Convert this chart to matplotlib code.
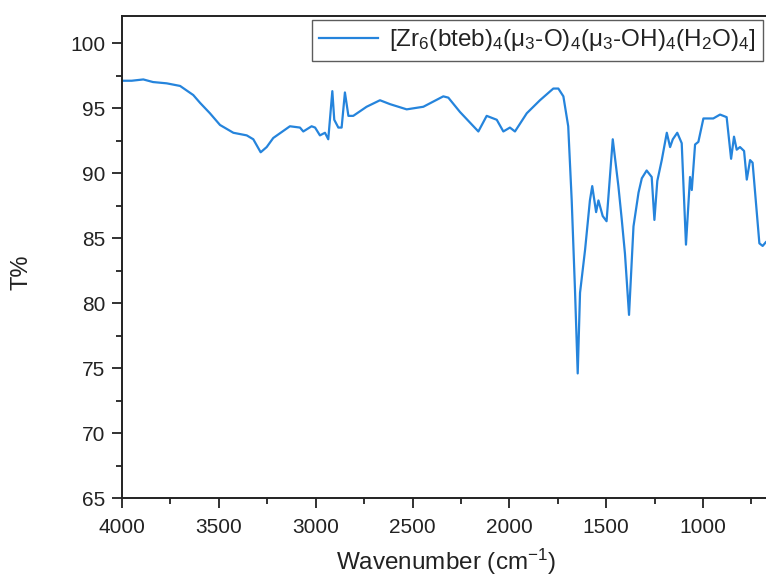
import matplotlib
matplotlib.use("Agg")
import matplotlib.pyplot as plt
from matplotlib.ticker import MultipleLocator

plt.rcParams['font.family'] = ['Liberation Sans', 'DejaVu Sans']
plt.rcParams['mathtext.fontset'] = 'custom'
plt.rcParams['mathtext.rm'] = 'Liberation Sans'
plt.rcParams['mathtext.it'] = 'Liberation Sans:italic'
plt.rcParams['mathtext.bf'] = 'Liberation Sans:bold'

wavenumber = [4000, 3950, 3890, 3840, 3769, 3700, 3632, 3597, 3546, 3494, 3425, 3356, 3322,
              3284, 3253, 3219, 3133, 3081, 3064, 3021, 3003, 2978, 2952, 2935, 2914, 2904,
              2883, 2866, 2849, 2831, 2806, 2737, 2668, 2616, 2530, 2444, 2341, 2315, 2255,
              2160, 2117, 2065, 2031, 1997, 1971, 1910, 1842, 1773, 1747, 1721, 1696, 1678,
              1661, 1647, 1635, 1609, 1584, 1572, 1552, 1540, 1518, 1498, 1466, 1437, 1420,
              1403, 1382, 1359, 1333, 1316, 1291, 1265, 1251, 1236, 1213, 1187, 1170, 1156,
              1133, 1110, 1088, 1067, 1058, 1041, 1024, 998, 973, 947, 912, 878, 855, 840,
              826, 809, 788, 774, 757, 744, 709, 692, 675, 650]
transmittance = [97.1, 97.1, 97.2, 97.0, 96.9, 96.7, 96.0, 95.4, 94.6, 93.7, 93.1, 92.9, 92.6,
                 91.6, 92.0, 92.7, 93.6, 93.5, 93.2, 93.6, 93.5, 92.9, 93.1, 92.6, 96.3, 94.1,
                 93.5, 93.5, 96.2, 94.4, 94.4, 95.1, 95.6, 95.3, 94.9, 95.1, 95.9, 95.8, 94.7,
                 93.2, 94.4, 94.1, 93.2, 93.5, 93.2, 94.6, 95.6, 96.5, 96.5, 95.9, 93.6, 87.9,
                 81.0, 74.6, 80.8, 84.1, 87.9, 89.0, 87.0, 87.9, 86.7, 86.3, 92.6, 89.0, 86.5,
                 83.8, 79.1, 85.9, 88.5, 89.6, 90.2, 89.7, 86.4, 89.4, 91.0, 93.1, 92.0, 92.6,
                 93.1, 92.3, 84.5, 89.7, 88.7, 92.2, 92.4, 94.2, 94.2, 94.2, 94.5, 94.3, 91.1, 92.8,
                 91.8, 92.0, 91.7, 89.5, 91.0, 90.8, 84.6, 84.4, 84.7, 85.0]

label = "[Zr$_6$(bteb)$_4$(μ$_3$-O)$_4$(μ$_3$-OH)$_4$(H$_2$O)$_4$]"

W, H = 766, 579
fig = plt.figure(figsize=(W / 100, H / 100), dpi=100)
left, right, top, bottom = 122, 770.8, 15.7, 498.3
ax = fig.add_axes([left / W, 1 - bottom / H, (right - left) / W, (bottom - top) / H])

ax.plot(wavenumber, transmittance, color='#2584dc', lw=1.6, label=label)

ax.set_xlim(4000, 650)
ax.set_ylim(65, 102.1)
ax.xaxis.set_major_locator(MultipleLocator(500))
ax.xaxis.set_minor_locator(MultipleLocator(250))
ax.yaxis.set_major_locator(MultipleLocator(5))
ax.yaxis.set_minor_locator(MultipleLocator(2.5))
ax.tick_params(which='both', direction='out', width=1.3, colors='#222222', labelcolor='#222222')
ax.tick_params(which='major', length=7, labelsize=15)
ax.tick_params(which='minor', length=4.5)
ax.tick_params(axis='x', which='major', pad=7)
ax.tick_params(axis='y', which='major', pad=5)
for s in ax.spines.values():
    s.set_linewidth(1.4)
    s.set_color('#222222')

fig.text(22 / W, 1 - 272 / H, 'T%', rotation=90, ha='center', va='center', fontsize=17, color='#222222')
fig.text(446 / W, 1 - 562 / H, 'Wavenumber (cm$^{-1}$)', ha='center', va='center', fontsize=17.5, color='#222222')

leg = ax.legend(loc='upper left', bbox_to_anchor=(312 / W, 1 - 20 / H), bbox_transform=fig.transFigure,
                fontsize=17.5, frameon=True, fancybox=False, handlelength=2.4, handletextpad=0.45,
                borderpad=0.3, borderaxespad=0)
leg.get_frame().set_edgecolor('#333333')
leg.get_frame().set_linewidth(1.0)
for t in leg.get_texts():
    t.set_color('#222222')

fig.savefig('out.png', dpi=100)
